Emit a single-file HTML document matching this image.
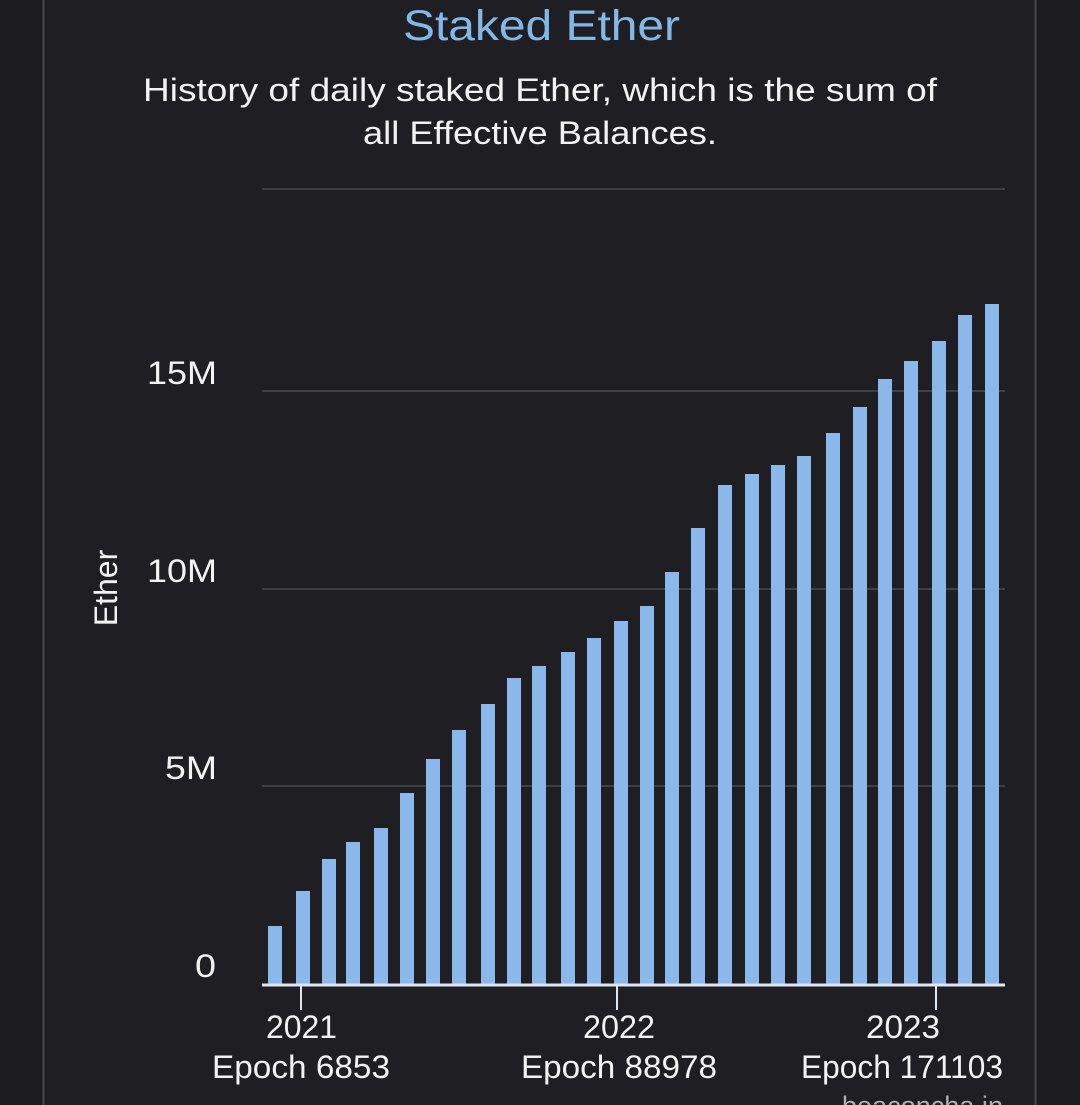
<!DOCTYPE html>
<html><head><style>
html,body{margin:0;padding:0;background:#1f1e22;}
svg{display:block;}
text{font-family:"Liberation Sans",sans-serif;}
</style></head><body>
<svg width="1080" height="1105" viewBox="0 0 1080 1105" xmlns="http://www.w3.org/2000/svg">
<rect width="1080" height="1105" fill="#1f1e22"/>
<rect x="0" y="0" width="43" height="1105" fill="#1d1c20"/>
<rect x="1036" y="0" width="44" height="1105" fill="#1d1c20"/>
<line x1="43.5" y1="0" x2="43.5" y2="1105" stroke="#47464b" stroke-width="2"/>
<line x1="1035.5" y1="0" x2="1035.5" y2="1105" stroke="#47464b" stroke-width="2"/>
<text x="403" y="40" textLength="277" lengthAdjust="spacingAndGlyphs" font-size="43" fill="#82b8e6">Staked Ether</text>
<text x="143" y="101" textLength="794" lengthAdjust="spacingAndGlyphs" font-size="32" fill="#f2f2f2">History of daily staked Ether, which is the sum of</text>
<text x="363" y="144" textLength="354" lengthAdjust="spacingAndGlyphs" font-size="32" fill="#f2f2f2">all Effective Balances.</text>
<g stroke="#403f44" stroke-width="2">
<line x1="262" y1="189" x2="1005" y2="189"/>
<line x1="262" y1="391" x2="1005" y2="391"/>
<line x1="262" y1="589" x2="1005" y2="589"/>
<line x1="262" y1="786" x2="1005" y2="786"/>
</g>
<g font-size="32" fill="#f2f2f2">
<text x="147" y="384" textLength="70" lengthAdjust="spacingAndGlyphs">15M</text>
<text x="147" y="582" textLength="70" lengthAdjust="spacingAndGlyphs">10M</text>
<text x="165" y="779" textLength="52" lengthAdjust="spacingAndGlyphs">5M</text>
<text x="195" y="977" textLength="21" lengthAdjust="spacingAndGlyphs">0</text>
</g>
<text transform="translate(117,588) rotate(-90)" text-anchor="middle" font-size="32" fill="#f2f2f2">Ether</text>
<g fill="#8ab8ea">
<rect x="268" y="926" width="14" height="58"/>
<rect x="296" y="891" width="14" height="93"/>
<rect x="322" y="859" width="14" height="125"/>
<rect x="346" y="842" width="14" height="142"/>
<rect x="374" y="828" width="14" height="156"/>
<rect x="400" y="793" width="14" height="191"/>
<rect x="426" y="759" width="14" height="225"/>
<rect x="452" y="730" width="14" height="254"/>
<rect x="481" y="704" width="14" height="280"/>
<rect x="507" y="678" width="14" height="306"/>
<rect x="532" y="666" width="14" height="318"/>
<rect x="561" y="652" width="14" height="332"/>
<rect x="587" y="638" width="14" height="346"/>
<rect x="614" y="621" width="14" height="363"/>
<rect x="640" y="606" width="14" height="378"/>
<rect x="665" y="572" width="14" height="412"/>
<rect x="691" y="528" width="14" height="456"/>
<rect x="718" y="485" width="14" height="499"/>
<rect x="745" y="474" width="14" height="510"/>
<rect x="771" y="465" width="14" height="519"/>
<rect x="797" y="456" width="14" height="528"/>
<rect x="826" y="433" width="14" height="551"/>
<rect x="853" y="407" width="14" height="577"/>
<rect x="878" y="379" width="14" height="605"/>
<rect x="904" y="361" width="14" height="623"/>
<rect x="932" y="341" width="14" height="643"/>
<rect x="958" y="315" width="14" height="669"/>
<rect x="985" y="304" width="14" height="680"/>
</g>
<line x1="262" y1="985" x2="1005" y2="985" stroke="#dfe6f2" stroke-width="3"/>
<g stroke="#dfe6f2" stroke-width="2">
<line x1="301" y1="985" x2="301" y2="1010"/>
<line x1="617" y1="985" x2="617" y2="1010"/>
<line x1="936" y1="985" x2="936" y2="1010"/>
</g>
<g font-size="32" fill="#f2f2f2">
<text x="266" y="1038" textLength="71" lengthAdjust="spacingAndGlyphs">2021</text>
<text x="212" y="1078" textLength="178" lengthAdjust="spacingAndGlyphs">Epoch 6853</text>
<text x="583" y="1038" textLength="72" lengthAdjust="spacingAndGlyphs">2022</text>
<text x="521" y="1078" textLength="196" lengthAdjust="spacingAndGlyphs">Epoch 88978</text>
<text x="866" y="1038" textLength="74" lengthAdjust="spacingAndGlyphs">2023</text>
<text x="801" y="1078" textLength="202" lengthAdjust="spacingAndGlyphs">Epoch 171103</text>
</g>
<text x="842" y="1115" textLength="161" lengthAdjust="spacingAndGlyphs" font-size="27" fill="#b0b0b4">beaconcha.in</text>
</svg>
</body></html>
